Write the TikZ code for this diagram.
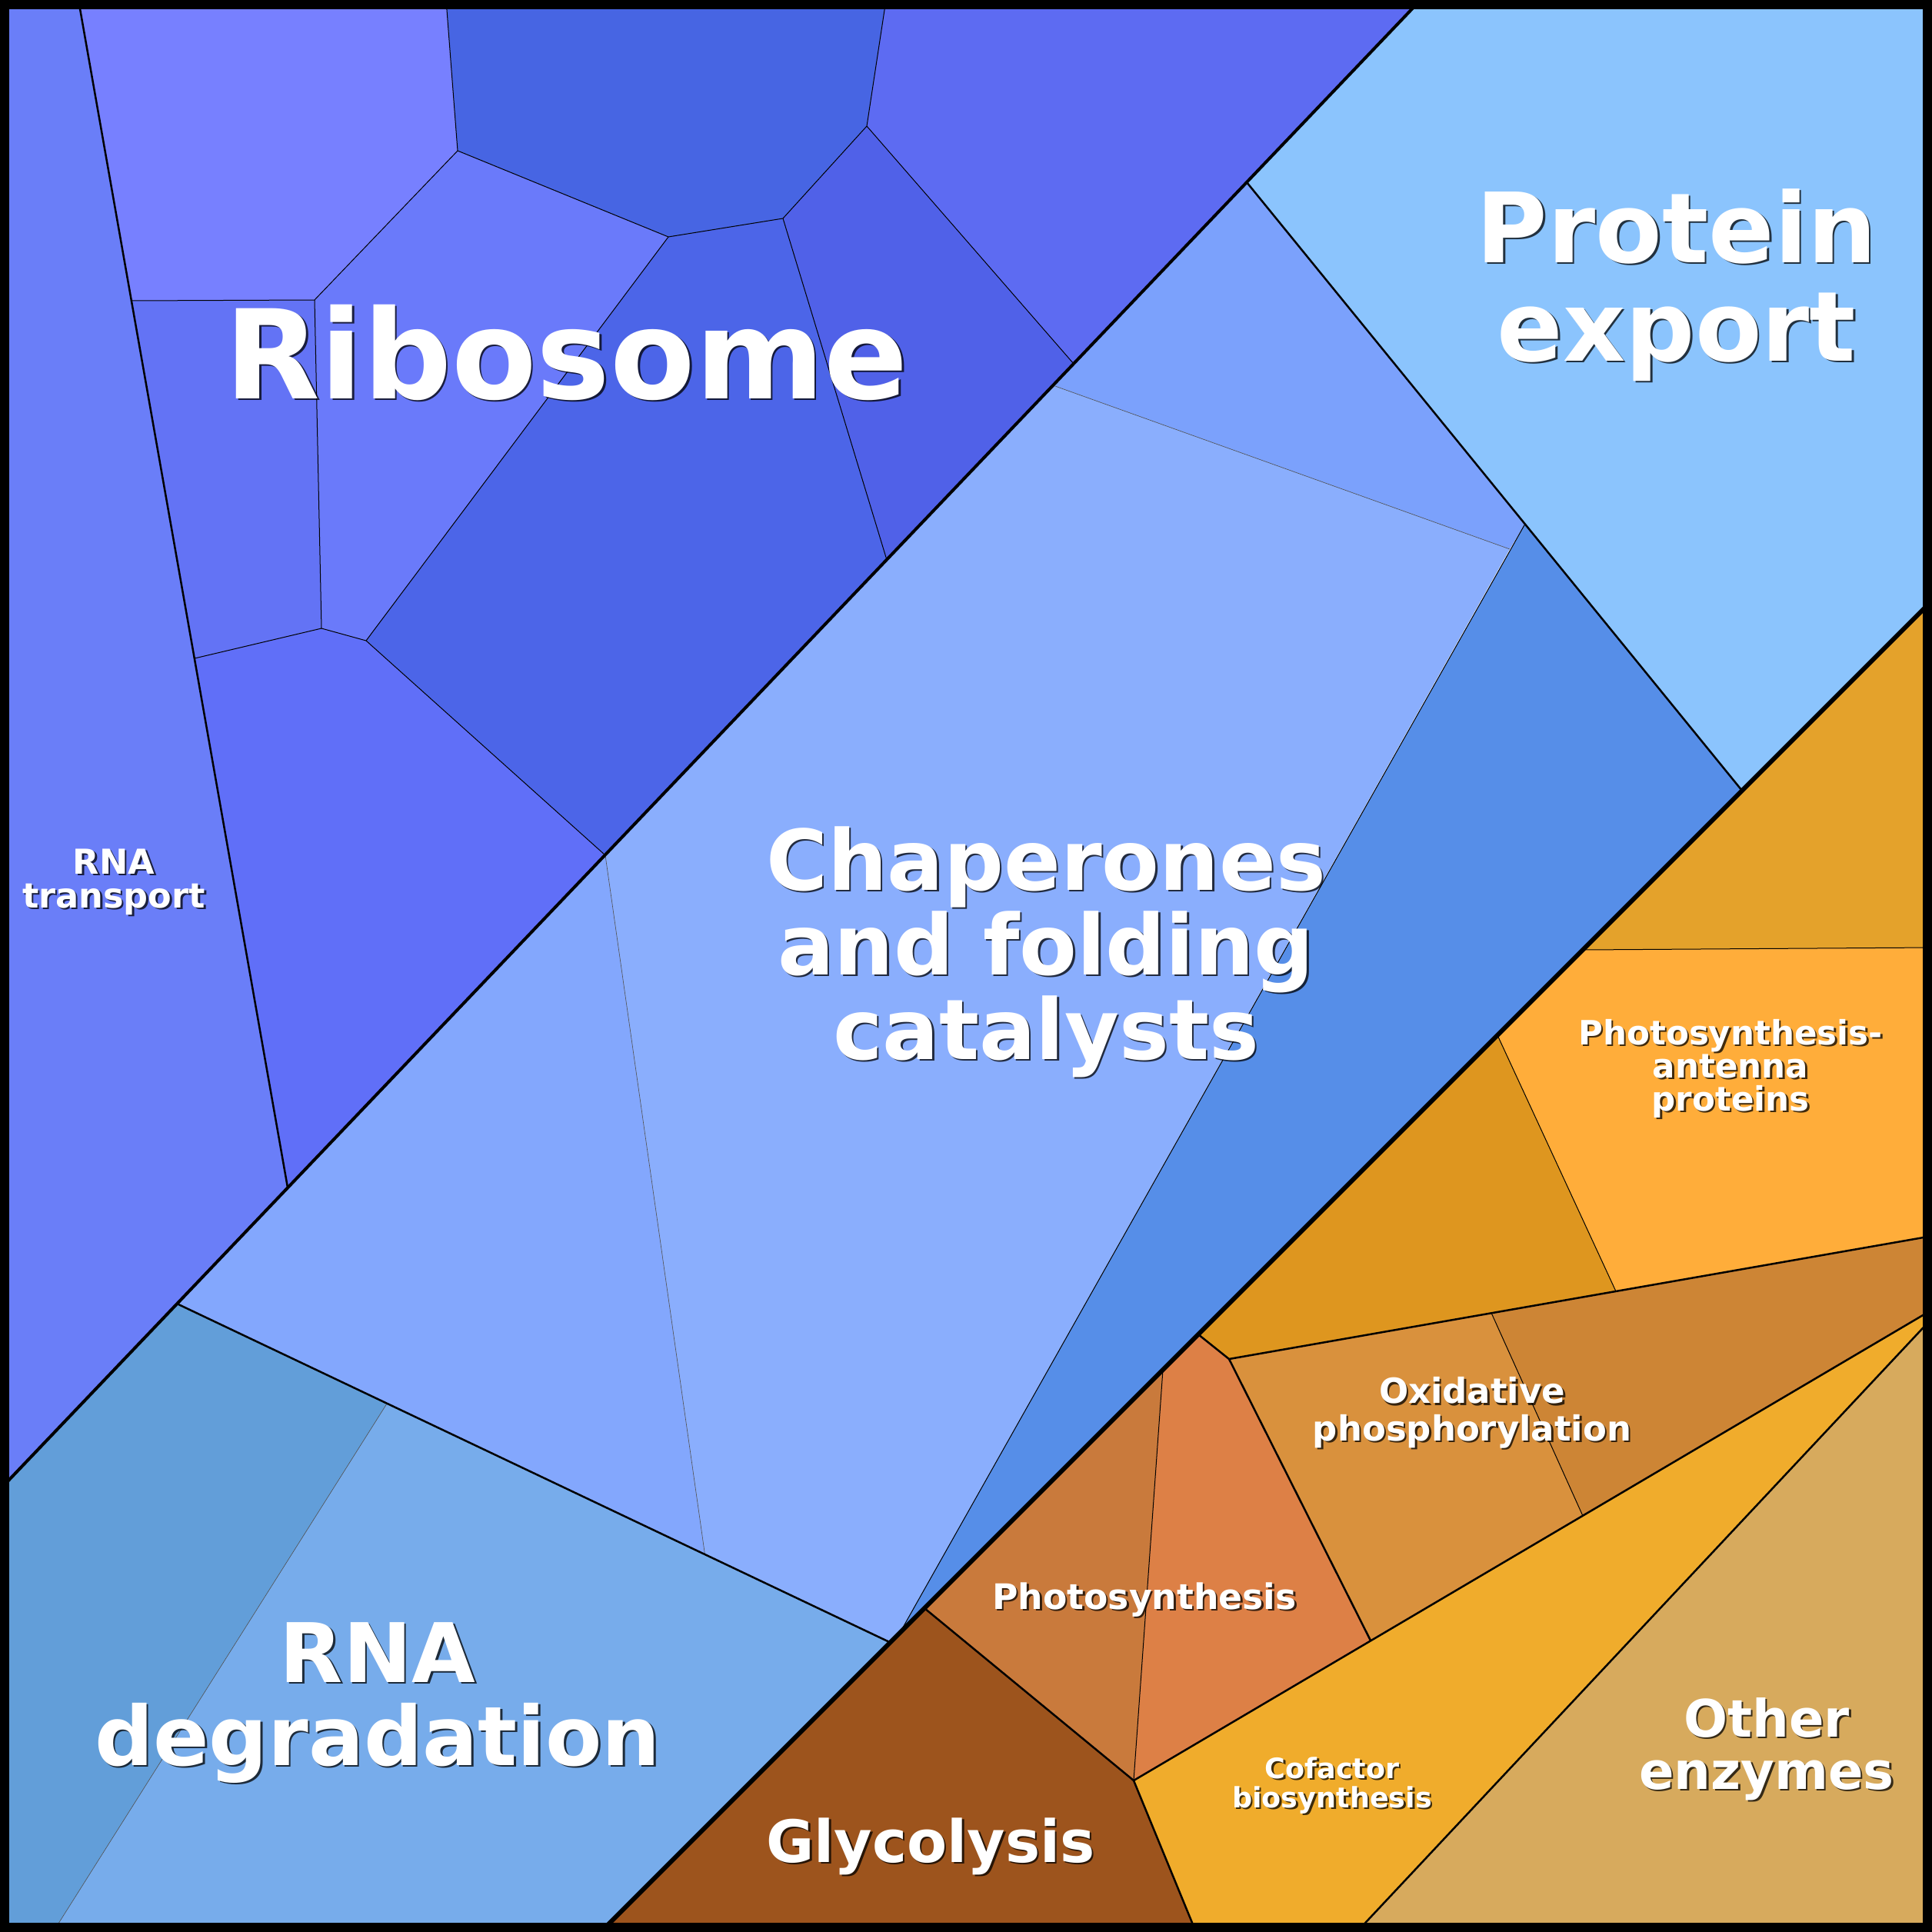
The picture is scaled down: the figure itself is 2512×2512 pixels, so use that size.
\documentclass[tikz,border=0pt]{standalone}
\usepackage{fontspec}
\setmainfont{DejaVu Sans}
\tikzset{thin edge/.style = {draw=black, line width=0.1mm}}
\tikzset{faint edge/.style = {draw=black!70, line width=0.06mm}}
\tikzset{mid edge/.style = {draw=black, line width=0.25mm, line join=round}}
\tikzset{group edge/.style = {draw=black, line width=0.4mm}}
\tikzset{top edge/.style = {draw=black, line width=0.58mm}}
\tikzset{lbl/.style = {text=white, align=center, inner sep=0, anchor=base}}
\tikzset{lbl shade/.style = {lbl, text=black, opacity=0.75, xshift=0.25mm, yshift=-0.25mm}}
\newcommand{\celllabel}[5]{%
  \node [lbl shade, font=\bfseries\fontsize{#3}{#4}\selectfont] at (#2) {#5};
  \node [lbl, font=\bfseries\fontsize{#3}{#4}\selectfont] (#1) at (#2) {#5};}
\definecolor{mribA}{HTML}{7780FF}
\definecolor{mribB}{HTML}{4765E3}
\definecolor{mribC}{HTML}{5D6BF2}
\definecolor{mribD}{HTML}{6A7AFA}
\definecolor{mribE}{HTML}{6373F5}
\definecolor{mribF}{HTML}{5061E8}
\definecolor{mribG}{HTML}{4C65E8}
\definecolor{mribH}{HTML}{606FF8}
\definecolor{mrnat}{HTML}{6A7EF8}
\definecolor{mexport}{HTML}{8BC4FD}
\definecolor{mchapA}{HTML}{7BA1FC}
\definecolor{mchapB}{HTML}{8AAEFD}
\definecolor{mchapC}{HTML}{83A7FD}
\definecolor{mchapD}{HTML}{568EE8}
\definecolor{mdegA}{HTML}{629ED9}
\definecolor{mdegB}{HTML}{77ACEB}
\definecolor{morgA}{HTML}{E4A22B}
\definecolor{mantenna}{HTML}{FFAD3A}
\definecolor{morgB}{HTML}{DE961F}
\definecolor{moxA}{HTML}{D9913D}
\definecolor{moxB}{HTML}{CD8535}
\definecolor{mphotA}{HTML}{C97A3C}
\definecolor{mphotB}{HTML}{DD8046}
\definecolor{mglyc}{HTML}{9D541D}
\definecolor{mcofac}{HTML}{F0AC2C}
\definecolor{mother}{HTML}{D7AA5D}
\begin{document}
\begin{tikzpicture}[x=0.1mm, y=-0.1mm]
    \useasboundingbox (0, 0) rectangle (2512, 2512);

    % translation side
    \coordinate (ta) at (102, 0);
    \coordinate (tb) at (580, 0);
    \coordinate (tc) at (1152, 0);
    \coordinate (td) at (1847, 0);
    \coordinate (rb) at (595, 196);
    \coordinate (rc) at (869, 308);
    \coordinate (re) at (1018, 284);
    \coordinate (rf) at (1127, 164);
    \coordinate (rh) at (1396, 473);
    \coordinate (ri) at (409, 390);
    \coordinate (rj) at (171, 391);
    \coordinate (rk) at (418, 817);
    \coordinate (rl) at (253, 856);
    \coordinate (rm) at (476, 833);
    \coordinate (rn) at (787, 1112);
    \coordinate (ro) at (1153, 728);
    \coordinate (rr) at (374, 1544);
    \coordinate (lw) at (0, 1936.5);

    % folding side
    \coordinate (pa) at (1621, 237);
    \coordinate (pb) at (2265, 1028);
    \coordinate (ea) at (2512, 781);
    \coordinate (ca) at (1369, 501);
    \coordinate (cq) at (1983, 681);
    \coordinate (cs) at (1963, 714);
    \coordinate (ct) at (1170, 2123);
    \coordinate (cu) at (1157.5, 2135.5);
    \coordinate (cv) at (916.5, 2021);
    \coordinate (cw) at (230, 1695);
    \coordinate (dx) at (503, 1825);
    \coordinate (dy) at (69, 2512);
    \coordinate (eb) at (781, 2512);

    % metabolism side
    \coordinate (oa) at (2058, 1235);
    \coordinate (ob) at (2512, 1232);
    \coordinate (oc) at (1947, 1346);
    \coordinate (od) at (2101, 1679);
    \coordinate (oe) at (2512, 1607);
    \coordinate (of) at (1598, 1767);
    \coordinate (og) at (1558, 1735);
    \coordinate (oh) at (1939, 1707);
    \coordinate (oi) at (2058, 1971);
    \coordinate (oj) at (1782, 2133);
    \coordinate (ok) at (2512, 1703);
    \coordinate (ol) at (1512, 1781);
    \coordinate (om) at (1474, 2315);
    \coordinate (on) at (1202, 2091);
    \coordinate (oo) at (1555, 2512);
    \coordinate (op) at (2512, 1714);
    \coordinate (oq) at (1764, 2512);

    \fill [mrnat] (0, 0) -- (ta) -- (rr) -- (lw) -- cycle;
    \fill [mribA] (ta) -- (tb) -- (rb) -- (ri) -- (rj) -- cycle;
    \fill [mribB] (tb) -- (tc) -- (rf) -- (re) -- (rc) -- (rb) -- cycle;
    \fill [mribC] (tc) -- (td) -- (rh) -- (rf) -- cycle;
    \fill [mribD] (rb) -- (rc) -- (rm) -- (rk) -- (ri) -- cycle;
    \fill [mribE] (rj) -- (ri) -- (rk) -- (rl) -- cycle;
    \fill [mribF] (rf) -- (rh) -- (ro) -- (re) -- cycle;
    \fill [mribG] (rc) -- (re) -- (ro) -- (rn) -- (rm) -- cycle;
    \fill [mribH] (rl) -- (rk) -- (rm) -- (rn) -- (rr) -- cycle;

    \fill [mexport] (td) -- (2512, 0) -- (ea) -- (pb) -- (pa) -- cycle;
    \fill [mchapA] (pa) -- (cq) -- (cs) -- (ca) -- cycle;
    \fill [mchapB] (ca) -- (cs) -- (ct) -- (cu) -- (cv) -- (rn) -- cycle;
    \fill [mchapC] (rn) -- (cv) -- (cw) -- cycle;
    \fill [mchapD] (cq) -- (pb) -- (ct) -- cycle;
    \fill [mdegA] (cw) -- (dx) -- (dy) -- (0, 2512) -- (lw) -- cycle;
    \fill [mdegB] (dx) -- (cu) -- (eb) -- (dy) -- cycle;

    \fill [morgA] (ea) -- (ob) -- (oa) -- cycle;
    \fill [mantenna] (oa) -- (ob) -- (oe) -- (od) -- (oc) -- cycle;
    \fill [morgB] (oc) -- (od) -- (of) -- (og) -- cycle;
    \fill [moxA] (of) -- (oh) -- (oi) -- (oj) -- cycle;
    \fill [moxB] (oh) -- (oe) -- (ok) -- (oi) -- cycle;
    \fill [mphotA] (ol) -- (om) -- (on) -- cycle;
    \fill [mphotB] (ol) -- (og) -- (of) -- (oj) -- (om) -- cycle;
    \fill [mglyc] (on) -- (om) -- (oo) -- (eb) -- cycle;
    \fill [mcofac] (om) -- (ok) -- (op) -- (oq) -- (oo) -- cycle;
    \fill [mother] (op) -- (2512, 2512) -- (oq) -- cycle;

    \draw [faint edge] (ca) -- (cs);
    \draw [faint edge] (rn) -- (cv);
    \draw [faint edge] (dx) -- (dy);

    \draw [thin edge] (tb) -- (rb) -- (ri) -- (rj);
    \draw [thin edge] (rb) -- (rc) -- (re) -- (rf) -- (tc);
    \draw [thin edge] (rf) -- (rh);
    \draw [thin edge] (re) -- (ro);
    \draw [thin edge] (rc) -- (rm) -- (rn);
    \draw [thin edge] (ri) -- (rk) -- (rl);
    \draw [thin edge] (rk) -- (rm);
    \draw [thin edge] (cq) -- (ct);
    \draw [thin edge] (oa) -- (ob);
    \draw [thin edge] (oc) -- (od);
    \draw [thin edge] (oh) -- (oi);
    \draw [thin edge] (ol) -- (om);

    \draw [mid edge] (ta) -- (rr);
    \draw [mid edge] (pa) -- (pb);
    \draw [mid edge] (cw) -- (cu);
    \draw [mid edge] (og) -- (of) -- (oe);
    \draw [mid edge] (of) -- (oj);
    \draw [mid edge] (on) -- (om) -- (ok);
    \draw [mid edge] (om) -- (oo);
    \draw [mid edge] (op) -- (oq);

    \draw [group edge] (td) -- (lw);
    \draw [top edge] (ea) -- (eb);

    \draw [line width=1.2mm] (6, 6) rectangle (2506, 2506);

    \celllabel{ribosome}{737, 518}{45.8pt}{46pt}{Ribosome}
    \celllabel{export}{2180, 469}{35.9pt}{36.4pt}{Protein\\export}
    \celllabel{chaperones}{1360, 1377}{31pt}{31.3pt}{Chaperones\\and folding\\catalysts}
    \celllabel{rnadeg}{491, 2295}{30.4pt}{30.7pt}{RNA\\degradation}
    \celllabel{rnatrans}{148, 1180}{12.7pt}{12.5pt}{RNA\\transport}
    \celllabel{glycolysis}{1210, 2421}{21.6pt}{22pt}{Glycolysis}
    \celllabel{other}{2297, 2326}{19.1pt}{19.3pt}{Other\\enzymes}
    \celllabel{photo}{1488, 2092}{13pt}{13pt}{Photosynthesis}
    \celllabel{oxphos}{1914, 1873}{12.8pt}{13.7pt}{Oxidative\\phosphorylation}
    \celllabel{antenna}{2250, 1444}{12.4pt}{12.2pt}{Photosynthesis-\\antenna\\proteins}
    \celllabel{cofactor}{1732, 2350}{10.4pt}{10.8pt}{Cofactor\\biosynthesis}
\end{tikzpicture}
\end{document}
